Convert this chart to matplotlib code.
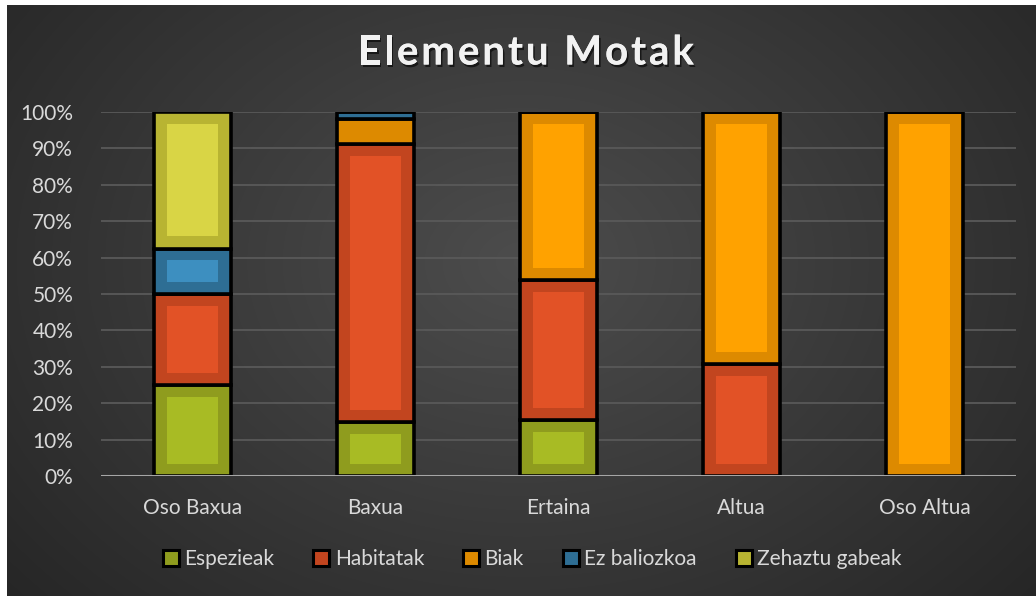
import numpy as np
import matplotlib
matplotlib.use("Agg")
import matplotlib.pyplot as plt
from matplotlib.patches import Rectangle
from matplotlib.lines import Line2D
import matplotlib.patheffects as pe

categories = ["Oso Baxua", "Baxua", "Ertaina", "Altua", "Oso Altua"]
series_names = ["Espezieak", "Habitatak", "Biak", "Ez baliozkoa", "Zehaztu gabeak"]
espezieak = [25.0, 14.8, 15.4, 0.0, 0.0]
habitatak = [25.0, 76.4, 38.4, 30.8, 0.0]
biak = [0.0, 6.8, 46.2, 69.2, 100.0]
ez_baliozkoa = [12.5, 2.0, 0.0, 0.0, 0.0]
zehaztu_gabeak = [37.5, 0.0, 0.0, 0.0, 0.0]
yticks = [0, 10, 20, 30, 40, 50, 60, 70, 80, 90, 100]
title = "Elementu Motak"

series = [espezieak, habitatak, biak, ez_baliozkoa, zehaztu_gabeak]
outer_colors = ["#8f9c1e", "#c2451f", "#dd8a00", "#2e6e94", "#b8b432"]
inner_colors = ["#a8bb24", "#e25226", "#ffa200", "#3d8fc0", "#d9d545"]

W, H = 1036, 596
fig = plt.figure(figsize=(W / 100, H / 100), dpi=100, facecolor="white")

# background gradient panel
bg = fig.add_axes([7 / W, 0, 1 - 7 / W, 1 - 5 / H])
bg.set_axis_off()
yy, xx = np.mgrid[0:300, 0:500]
cx, cy = 250, 130
r = np.sqrt(((xx - cx) / 330) ** 2 + ((yy - cy) / 260) ** 2)
val = 0.30 - 0.15 * np.clip(r, 0, 1.2)
val = np.clip(val, 0.14, 0.31)
img = np.dstack([val, val, val])
bg.imshow(img, aspect="auto", extent=[0, 1, 0, 1], interpolation="bilinear")
bg.set_xlim(0, 1)
bg.set_ylim(0, 1)

left, right = 101 / W, 1016 / W
bottom, top = 1 - 476 / H, 1 - 112 / H
ax = fig.add_axes([left, bottom, right - left, top - bottom])
ax.set_facecolor("none")
for s in ax.spines.values():
    s.set_visible(False)

x = np.arange(len(categories))
width = 0.42
px_per_unit_y = (476 - 112) / 100.0
px_per_unit_x = (1016 - 101) / 5.0
inset_y = 12 / px_per_unit_y
inset_x = 13 / px_per_unit_x

ax.set_xlim(-0.5, 4.5)
ax.set_ylim(0, 100)
ax.set_yticks(yticks)
ax.set_yticklabels([f"{t}%" for t in yticks])
ax.yaxis.grid(True, color="#595959", linewidth=1.3)
ax.set_axisbelow(True)
ax.tick_params(axis="both", length=0, colors="#d9d9d9", labelsize=15)
ax.tick_params(axis="y", pad=20)
ax.tick_params(axis="x", pad=16)
ax.set_xticks(x)
ax.set_xticklabels(categories)
for lab in ax.get_xticklabels() + ax.get_yticklabels():
    lab.set_fontfamily("Lato")
    lab.set_color("#d9d9d9")

bottoms = np.zeros(len(categories))
for vals, oc, ic in zip(series, outer_colors, inner_colors):
    vals = np.array(vals)
    ax.bar(x, vals, width, bottom=bottoms, color=oc, edgecolor="black",
           linewidth=2.6, zorder=3)
    for xi, b, v in zip(x, bottoms, vals):
        if v * px_per_unit_y > 30:
            ax.add_patch(Rectangle((xi - width / 2 + inset_x, b + inset_y),
                                   width - 2 * inset_x, v - 2 * inset_y,
                                   facecolor=ic, edgecolor="none", zorder=4))
    bottoms = bottoms + vals

ax.axhline(0, color="#a6a6a6", linewidth=2.2, zorder=5)

# title with letter spacing
renderer = fig.canvas.get_renderer()
tkw = dict(fontsize=29, fontweight="bold", color="#f2f2f2", fontfamily="Lato")
prefix_w = []
for i in range(len(title) + 1):
    t = fig.text(0, 0, title[:i] if i > 0 else "", **tkw)
    prefix_w.append(t.get_window_extent(renderer).width if i > 0 else 0.0)
    t.remove()
target_w = 336.0
nat_w = prefix_w[-1]
spacing = (target_w - nat_w) / (len(title) - 1)
x0 = 358.0
for i, ch in enumerate(title):
    if ch == " ":
        continue
    xp = x0 + prefix_w[i] + spacing * i
    fig.text(xp / W, 1 - 53 / H, ch, ha="left", va="center", **tkw,
             path_effects=[pe.withSimplePatchShadow(offset=(1.2, -1.8), shadow_rgbFace="black", alpha=0.6),
                           pe.Normal()])

handles = [Line2D([0], [0], marker="s", linestyle="none", markersize=11.5,
                  markerfacecolor=oc, markeredgecolor="black", markeredgewidth=2.2)
           for oc in outer_colors]
leg = fig.legend(handles, series_names, loc="center", bbox_to_anchor=(531 / W, 1 - 559 / H),
                 ncol=5, frameon=False, handletextpad=0.15,
                 columnspacing=1.75, handlelength=1.0,
                 prop={"family": "Lato", "size": 15})
for t in leg.get_texts():
    t.set_color("#d9d9d9")

fig.savefig("out.png", dpi=100, facecolor="white")
